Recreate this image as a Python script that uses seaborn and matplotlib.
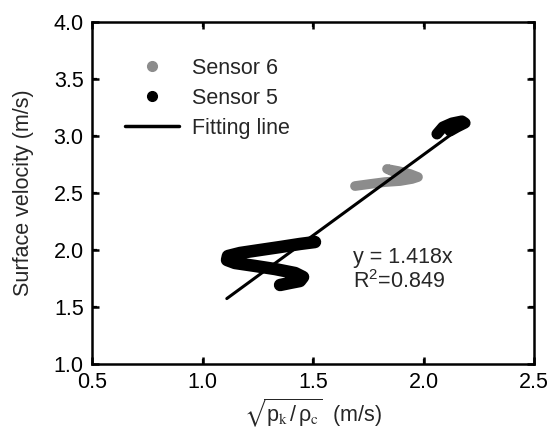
import numpy as np
import pandas as pd
import matplotlib
matplotlib.use("Agg")
import matplotlib.pyplot as plt
from matplotlib.lines import Line2D
import seaborn as sns

# ---- data ----
s5_x = [1.509, 1.441, 1.351, 1.260, 1.170, 1.115, 1.111, 1.147, 1.238, 1.328,
        1.419, 1.455, 1.441, 1.396, 1.351]
s5_y = [2.070, 2.053, 2.026, 2.000, 1.974, 1.947, 1.912, 1.886, 1.860, 1.833,
        1.798, 1.763, 1.728, 1.711, 1.693]

s5b_x = [2.061, 2.088, 2.129, 2.174, 2.188, 2.152, 2.120]
s5b_y = [3.018, 3.079, 3.114, 3.132, 3.114, 3.079, 3.044]

s6_x = [1.690, 1.758, 1.826, 1.894, 1.948, 1.975, 1.939, 1.885, 1.835, 1.860, 1.916]
s6_y = [2.561, 2.579, 2.596, 2.605, 2.623, 2.640, 2.667, 2.693, 2.711, 2.690, 2.649]

fit_x = np.array([1.11, 2.18])
slope = 1.418
fit_y = slope * fit_x

x_ticks = [0.5, 1.0, 1.5, 2.0, 2.5]
y_ticks = [1.0, 1.5, 2.0, 2.5, 3.0, 3.5, 4.0]

sns.set_theme(style="ticks")
plt.rcParams['font.family'] = ['Liberation Sans', 'DejaVu Sans']
plt.rcParams['mathtext.default'] = 'regular'

FS = 15.5
fig = plt.figure(figsize=(5.5, 4.36), dpi=100)
ax = fig.add_axes([92/550, 1 - 364/436, 442/550, 342/436])

gray = '#8c8c8c'
df6 = pd.DataFrame({'x': s6_x, 'y': s6_y})
df5 = pd.DataFrame({'x': s5_x, 'y': s5_y})
df5b = pd.DataFrame({'x': s5b_x, 'y': s5b_y})

for d, c, lw in [(df6, gray, 7.0), (df5, 'black', 9.0), (df5b, 'black', 8.0)]:
    sns.lineplot(data=d, x='x', y='y', sort=False, estimator=None, ax=ax,
                 color=c, linewidth=lw, solid_capstyle='round',
                 solid_joinstyle='round')

sns.lineplot(x=fit_x, y=fit_y, ax=ax, color='black', linewidth=2.2)

ax.set_xlim(0.5, 2.5)
ax.set_ylim(1.0, 4.0)
ax.set_xticks(x_ticks, [f'{v:.1f}' for v in x_ticks])
ax.set_yticks(y_ticks, [f'{v:.1f}' for v in y_ticks])
for sp in ax.spines.values():
    sp.set_linewidth(1.8)
    sp.set_color('black')

ax.set_ylabel('Surface velocity (m/s)', fontsize=FS, labelpad=14)
ax.set_xlabel(r'$\sqrt{p_{\mathrm{k}}\,/\,\rho_{\mathrm{c}}}$  (m/s)',
              fontsize=FS, labelpad=2)
ax.xaxis.label.set_math_fontfamily('stix')

ax.text(1.68, 1.93, 'y = 1.418x', fontsize=FS, va='center', ha='left')
ax.text(1.68, 1.72, 'R$^2$=0.849', fontsize=FS, va='center', ha='left')

handles = [
    Line2D([], [], linestyle='none', marker='o', markersize=7, color=gray),
    Line2D([], [], linestyle='none', marker='o', markersize=7, color='black'),
    Line2D([], [], color='black', linewidth=2.5),
]
ax.legend(handles, ['Sensor 6', 'Sensor 5', 'Fitting line'], frameon=False,
          loc='upper left', bbox_to_anchor=(0.075, 0.895), borderaxespad=0,
          borderpad=0, fontsize=FS, handlelength=2.5, handletextpad=0.6,
          labelspacing=0.42)

# tick settings applied last
ax.tick_params(axis='both', which='major', direction='in', length=5, width=1.8,
               bottom=True, left=True, top=True, right=True,
               color='black', labelcolor='black', labelsize=FS, pad=6)

# explicit inward tick segments on all four sides, placed from the tick lists
xt = ax.get_xaxis_transform()
yt = ax.get_yaxis_transform()
for v in x_ticks[1:-1]:
    ax.plot([v, v], [0, 0.016], transform=xt, color='black', lw=1.6,
            solid_capstyle='butt', clip_on=False, zorder=5)
    ax.plot([v, v], [1, 0.984], transform=xt, color='black', lw=1.6,
            solid_capstyle='butt', clip_on=False, zorder=5)
for v in y_ticks[1:-1]:
    ax.plot([0, 0.012], [v, v], transform=yt, color='black', lw=1.6,
            solid_capstyle='butt', clip_on=False, zorder=5)
    ax.plot([1, 0.988], [v, v], transform=yt, color='black', lw=1.6,
            solid_capstyle='butt', clip_on=False, zorder=5)

fig.savefig('out.png', dpi=100)
